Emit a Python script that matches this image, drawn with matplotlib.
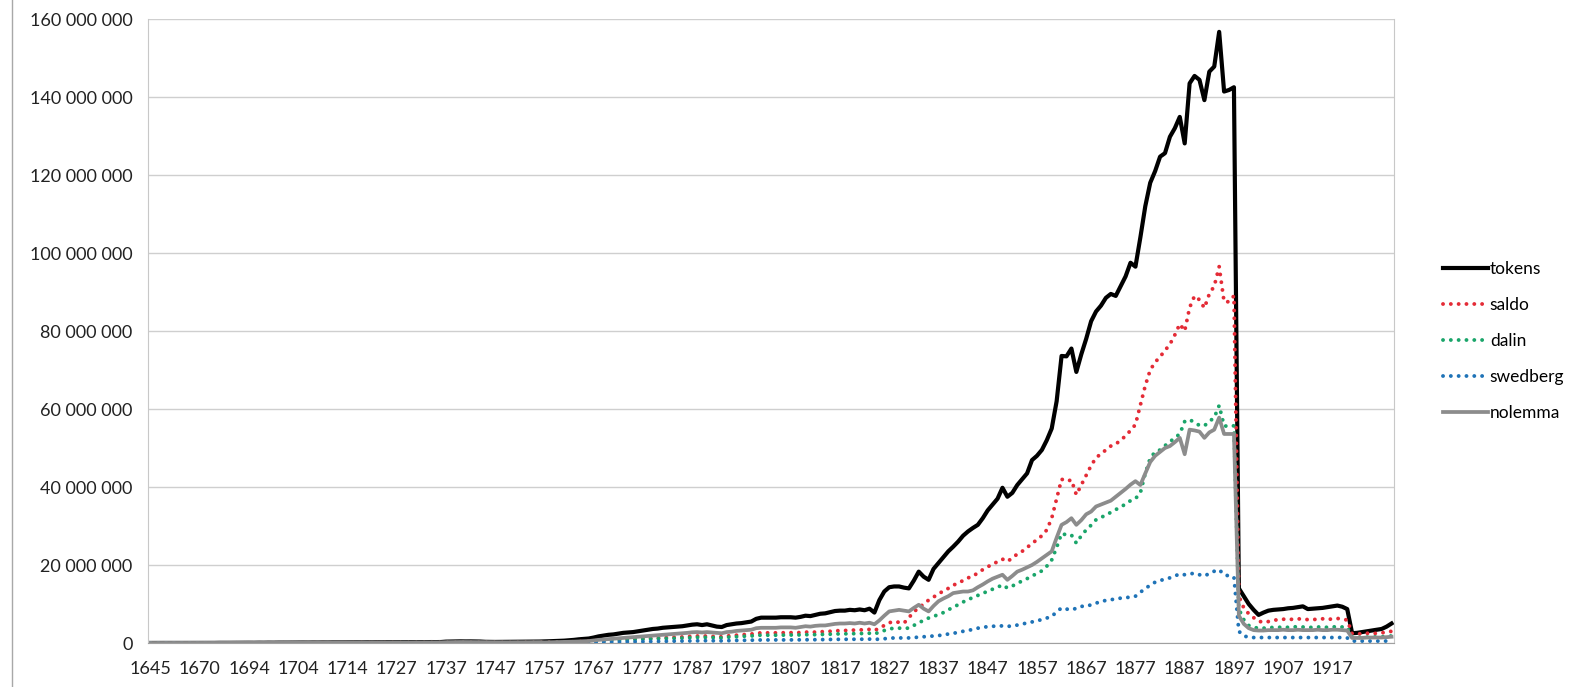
import matplotlib.pyplot as plt
from matplotlib.lines import Line2D
from matplotlib.ticker import FuncFormatter

# categories (years with data); before 1737 the years are not consecutive
early_years = [1645, 1648, 1650, 1654, 1656, 1658, 1661, 1663, 1665, 1668,
               1670, 1672, 1674, 1677, 1679, 1681, 1684, 1686, 1689, 1691,
               1694, 1695, 1696, 1697, 1698, 1699, 1700, 1701, 1702, 1703,
               1704, 1705, 1706, 1707, 1708, 1709, 1710, 1711, 1712, 1713,
               1714, 1715, 1716, 1718, 1719, 1720, 1722, 1723, 1724, 1726,
               1727, 1728, 1729, 1730, 1731, 1732, 1733, 1734, 1735, 1736]
years = early_years + list(range(1737, 1930))

# values in millions
tokens = [
    0.01, 0.02, 0.01, 0.02, 0.01, 0.02, 0.03, 0.02, 0.02, 0.03,
    0.03, 0.02, 0.04, 0.03, 0.05, 0.04, 0.05, 0.06, 0.05, 0.06,
    0.07, 0.06, 0.08, 0.07, 0.09, 0.08, 0.1, 0.09, 0.1, 0.11,
    0.1, 0.12, 0.11, 0.13, 0.12, 0.14, 0.13, 0.15, 0.14, 0.15,
    0.16, 0.15, 0.17, 0.16, 0.18, 0.17, 0.19, 0.18, 0.2, 0.19,
    0.2, 0.21, 0.2, 0.22, 0.21, 0.23, 0.22, 0.24, 0.23, 0.25,
    0.35, 0.38, 0.4, 0.42, 0.4, 0.41, 0.39, 0.37, 0.3, 0.28,
    0.27, 0.28, 0.3, 0.29, 0.31, 0.3, 0.32, 0.33, 0.35, 0.37,
    0.4, 0.45, 0.5, 0.55, 0.6, 0.7, 0.8, 0.95, 1.05, 1.15,
    1.4, 1.7, 1.9, 2.1, 2.2, 2.4, 2.6, 2.7, 2.8, 3.0,
    3.2, 3.4, 3.6, 3.7, 3.9, 4.0, 4.1, 4.2, 4.3, 4.5,
    4.7, 4.8, 4.6, 4.8, 4.5, 4.2, 4.1, 4.6, 4.8, 5.0,
    5.1, 5.3, 5.5, 6.2, 6.5, 6.5, 6.5, 6.5, 6.6, 6.6,
    6.6, 6.5, 6.7, 7.0, 6.9, 7.2, 7.5, 7.6, 7.9, 8.2,
    8.3, 8.3, 8.5, 8.4, 8.6, 8.4, 8.8, 7.8, 11.0, 13.2,
    14.3, 14.5, 14.5, 14.2, 14.0, 16.0, 18.3, 17.0, 16.2, 19.0,
    20.5, 22.0, 23.5, 24.7, 26.0, 27.5, 28.6, 29.5, 30.3, 32.0,
    34.0, 35.5, 37.0, 39.8, 37.5, 38.5, 40.5, 42.0, 43.5, 46.9,
    48.0, 49.5, 52.0, 55.0, 62.0, 73.6, 73.5, 75.5, 69.5, 74.0,
    78.0, 82.5, 85.0, 86.5, 88.5, 89.5, 89.0, 91.5, 94.0, 97.5,
    96.5, 104.0, 112.0, 118.0, 121.0, 124.7, 125.6, 129.8, 132.0, 134.9,
    128.1, 143.5, 145.4, 144.4, 139.2, 146.5, 147.8, 156.7, 141.4, 141.8,
    142.5, 14.0, 12.0, 10.0, 8.5, 7.2, 7.8, 8.3, 8.5, 8.6,
    8.7, 8.9, 9.0, 9.2, 9.4, 8.7, 8.8, 8.9, 9.0, 9.2,
    9.4, 9.6, 9.3, 8.7, 2.5, 2.6, 2.8, 3.0, 3.2, 3.4,
    3.6, 4.2, 5.0,
]

saldo = [
    0.0, 0.01, 0.0, 0.01, 0.0, 0.01, 0.01, 0.01, 0.01, 0.01,
    0.01, 0.01, 0.02, 0.01, 0.02, 0.02, 0.02, 0.02, 0.02, 0.02,
    0.03, 0.02, 0.03, 0.03, 0.04, 0.03, 0.04, 0.04, 0.04, 0.04,
    0.04, 0.05, 0.04, 0.05, 0.05, 0.05, 0.05, 0.06, 0.05, 0.06,
    0.06, 0.06, 0.07, 0.06, 0.07, 0.07, 0.07, 0.07, 0.08, 0.07,
    0.08, 0.08, 0.08, 0.09, 0.08, 0.09, 0.09, 0.09, 0.09, 0.1,
    0.12, 0.13, 0.14, 0.15, 0.14, 0.14, 0.13, 0.13, 0.11, 0.1,
    0.1, 0.1, 0.11, 0.1, 0.11, 0.11, 0.12, 0.12, 0.13, 0.14,
    0.15, 0.17, 0.19, 0.21, 0.23, 0.27, 0.3, 0.35, 0.4, 0.45,
    0.55, 0.65, 0.72, 0.8, 0.85, 0.9, 0.95, 1.0, 1.05, 1.1,
    1.15, 1.2, 1.25, 1.3, 1.35, 1.4, 1.45, 1.5, 1.55, 1.65,
    1.75, 1.8, 1.75, 1.8, 1.7, 1.6, 1.6, 1.8, 1.9, 2.0,
    2.1, 2.2, 2.3, 2.5, 2.6, 2.6, 2.6, 2.6, 2.6, 2.65,
    2.65, 2.6, 2.7, 2.8, 2.75, 2.8, 2.9, 2.9, 3.0, 3.1,
    3.2, 3.2, 3.3, 3.3, 3.4, 3.3, 3.5, 3.2, 3.8, 4.5,
    5.2, 5.5, 5.3, 5.1, 6.5, 8.0, 9.0, 10.0, 11.0, 11.8,
    12.5, 13.4, 14.0, 14.8, 15.4, 16.0, 16.7, 17.1, 18.0, 18.8,
    19.5, 20.3, 20.8, 21.5, 20.9, 21.8, 22.8, 23.5, 24.5, 25.5,
    26.5, 27.5, 29.0, 32.0, 37.0, 42.0, 41.5, 41.8, 38.0, 40.5,
    43.0, 45.5, 47.5, 48.5, 49.5, 50.5, 51.0, 52.0, 53.1, 54.5,
    56.0, 61.0, 66.0, 70.0, 72.0, 73.4, 75.0, 76.6, 79.0, 81.8,
    80.0, 86.0, 89.0, 88.0, 85.9, 89.5, 91.5, 96.5, 87.5, 87.5,
    89.0, 12.0, 9.0, 7.5, 6.5, 5.6, 5.3, 5.5, 5.8, 6.0,
    6.1, 6.0, 6.1, 6.2, 6.1, 6.0, 6.0, 6.1, 6.2, 6.0,
    6.2, 6.3, 6.1, 5.9, 2.4, 2.3, 2.4, 2.5, 2.4, 2.5,
    2.6, 2.8, 3.0,
]

dalin = [
    0.0, 0.0, 0.0, 0.01, 0.0, 0.01, 0.01, 0.01, 0.01, 0.01,
    0.01, 0.01, 0.01, 0.01, 0.01, 0.01, 0.02, 0.02, 0.02, 0.02,
    0.02, 0.02, 0.02, 0.02, 0.03, 0.02, 0.03, 0.03, 0.03, 0.03,
    0.03, 0.04, 0.03, 0.04, 0.04, 0.04, 0.04, 0.04, 0.04, 0.05,
    0.05, 0.05, 0.05, 0.05, 0.05, 0.05, 0.06, 0.05, 0.06, 0.06,
    0.06, 0.06, 0.06, 0.07, 0.06, 0.07, 0.07, 0.07, 0.07, 0.07,
    0.08, 0.09, 0.1, 0.1, 0.1, 0.1, 0.09, 0.09, 0.08, 0.07,
    0.07, 0.07, 0.08, 0.07, 0.08, 0.08, 0.08, 0.08, 0.09, 0.09,
    0.1, 0.12, 0.14, 0.16, 0.18, 0.2, 0.23, 0.27, 0.3, 0.35,
    0.42, 0.5, 0.56, 0.62, 0.66, 0.7, 0.75, 0.8, 0.85, 0.9,
    0.95, 1.0, 1.05, 1.1, 1.12, 1.15, 1.18, 1.2, 1.25, 1.3,
    1.4, 1.45, 1.4, 1.45, 1.4, 1.3, 1.3, 1.45, 1.55, 1.6,
    1.7, 1.75, 1.8, 1.95, 2.0, 2.0, 2.0, 2.0, 2.0, 2.05,
    2.05, 2.0, 2.1, 2.15, 2.1, 2.15, 2.2, 2.2, 2.25, 2.3,
    2.35, 2.35, 2.4, 2.4, 2.45, 2.4, 2.5, 2.3, 2.8, 3.2,
    3.6, 3.8, 3.8, 3.8, 3.8, 4.5, 5.2, 5.8, 6.4, 6.9,
    7.2, 7.8, 8.5, 9.2, 9.8, 10.5, 11.2, 11.6, 12.2, 12.8,
    13.2, 13.8, 14.3, 14.9, 14.1, 14.6, 15.3, 15.9, 16.5, 17.2,
    17.8, 18.5, 19.7, 21.3, 24.5, 28.1, 27.7, 27.7, 25.6, 27.5,
    29.0, 30.2, 31.6, 32.2, 32.8, 33.5, 34.2, 34.9, 35.6, 36.5,
    37.0, 38.5, 43.5, 47.4, 49.0, 49.5, 50.6, 51.6, 52.6, 53.6,
    56.8, 57.3, 56.5, 55.8, 55.7, 56.8, 57.8, 60.9, 55.7, 55.5,
    55.7, 8.7, 6.0, 4.5, 4.0, 3.8, 3.8, 3.9, 4.0, 4.0,
    4.1, 4.0, 4.1, 4.2, 4.1, 4.0, 4.0, 4.1, 4.1, 4.0,
    4.1, 4.2, 4.1, 4.0, 1.5, 1.4, 1.5, 1.5, 1.5, 1.6,
    1.6, 1.7, 1.8,
]

swedberg = [
    0.0, 0.0, 0.0, 0.0, 0.0, 0.0, 0.0, 0.0, 0.0, 0.0,
    0.0, 0.0, 0.0, 0.0, 0.0, 0.0, 0.01, 0.01, 0.01, 0.01,
    0.01, 0.01, 0.01, 0.01, 0.01, 0.01, 0.01, 0.01, 0.01, 0.01,
    0.01, 0.01, 0.01, 0.01, 0.01, 0.01, 0.01, 0.01, 0.01, 0.01,
    0.01, 0.01, 0.01, 0.01, 0.01, 0.01, 0.01, 0.01, 0.02, 0.02,
    0.02, 0.02, 0.02, 0.02, 0.02, 0.02, 0.02, 0.02, 0.02, 0.02,
    0.03, 0.03, 0.03, 0.03, 0.03, 0.03, 0.03, 0.03, 0.03, 0.03,
    0.03, 0.03, 0.03, 0.03, 0.03, 0.03, 0.03, 0.03, 0.04, 0.04,
    0.04, 0.05, 0.05, 0.06, 0.06, 0.07, 0.08, 0.09, 0.1, 0.12,
    0.15, 0.18, 0.2, 0.22, 0.24, 0.26, 0.28, 0.3, 0.32, 0.34,
    0.36, 0.38, 0.4, 0.42, 0.44, 0.46, 0.48, 0.5, 0.52, 0.55,
    0.58, 0.6, 0.58, 0.6, 0.58, 0.55, 0.55, 0.6, 0.62, 0.65,
    0.67, 0.7, 0.72, 0.76, 0.78, 0.78, 0.78, 0.78, 0.79, 0.8,
    0.8, 0.8, 0.82, 0.84, 0.83, 0.85, 0.87, 0.88, 0.9, 0.92,
    0.94, 0.94, 0.96, 0.96, 0.98, 0.96, 1.0, 0.9, 1.0, 1.1,
    1.2, 1.3, 1.3, 1.3, 1.3, 1.4, 1.5, 1.6, 1.7, 1.8,
    1.9, 2.1, 2.3, 2.5, 2.7, 3.0, 3.2, 3.5, 3.8, 4.0,
    4.2, 4.3, 4.3, 4.4, 4.3, 4.3, 4.6, 4.9, 5.1, 5.4,
    5.7, 6.0, 6.4, 6.8, 8.0, 9.0, 8.7, 8.5, 8.9, 9.4,
    9.4, 9.8, 10.2, 10.7, 10.9, 11.1, 11.3, 11.5, 11.6, 11.8,
    12.0, 13.0, 14.0, 14.8, 15.6, 16.0, 16.4, 16.7, 17.2, 17.7,
    17.5, 17.7, 17.9, 17.5, 17.2, 17.8, 18.4, 18.8, 17.5, 17.2,
    16.9, 3.0, 1.8, 1.5, 1.4, 1.4, 1.4, 1.4, 1.4, 1.4,
    1.4, 1.4, 1.4, 1.4, 1.4, 1.4, 1.4, 1.4, 1.4, 1.4,
    1.4, 1.4, 1.4, 1.3, 0.5, 0.5, 0.5, 0.5, 0.5, 0.5,
    0.5, 0.5, 0.6,
]

nolemma = [
    0.01, 0.01, 0.01, 0.01, 0.01, 0.01, 0.02, 0.01, 0.01, 0.02,
    0.02, 0.01, 0.02, 0.02, 0.03, 0.02, 0.03, 0.04, 0.03, 0.04,
    0.04, 0.04, 0.05, 0.04, 0.05, 0.05, 0.06, 0.05, 0.06, 0.07,
    0.06, 0.07, 0.07, 0.08, 0.07, 0.08, 0.08, 0.09, 0.08, 0.09,
    0.1, 0.09, 0.1, 0.1, 0.11, 0.1, 0.11, 0.11, 0.12, 0.11,
    0.12, 0.13, 0.12, 0.13, 0.13, 0.14, 0.13, 0.14, 0.14, 0.15,
    0.2, 0.22, 0.24, 0.25, 0.24, 0.24, 0.23, 0.22, 0.18, 0.17,
    0.16, 0.17, 0.18, 0.17, 0.19, 0.18, 0.19, 0.2, 0.21, 0.22,
    0.15, 0.18, 0.2, 0.22, 0.25, 0.3, 0.35, 0.4, 0.45, 0.5,
    0.65, 0.8, 0.9, 1.0, 1.1, 1.2, 1.3, 1.4, 1.5, 1.6,
    1.7, 1.8, 1.9, 2.0, 2.1, 2.2, 2.3, 2.4, 2.5, 2.6,
    2.75, 2.8, 2.7, 2.8, 2.7, 2.6, 2.5, 2.8, 2.9, 3.1,
    3.2, 3.3, 3.4, 3.8, 3.9, 3.9, 3.9, 3.9, 4.0, 4.0,
    4.0, 3.9, 4.1, 4.3, 4.2, 4.4, 4.5, 4.5, 4.7, 4.9,
    5.0, 5.0, 5.1, 5.0, 5.2, 5.0, 5.2, 4.8, 5.8, 7.0,
    8.1, 8.3, 8.5, 8.3, 8.1, 9.0, 9.8, 8.8, 8.1, 9.5,
    10.7, 11.4, 12.0, 12.8, 13.0, 13.2, 13.2, 13.5, 14.3, 15.0,
    15.8, 16.5, 17.0, 17.5, 16.2, 17.2, 18.3, 18.8, 19.4, 20.0,
    20.8, 21.7, 22.6, 23.5, 27.0, 30.3, 31.0, 32.0, 30.3, 31.5,
    33.0, 33.7, 35.0, 35.5, 36.0, 36.5, 37.5, 38.5, 39.5, 40.6,
    41.5, 40.5, 43.5, 46.4, 48.0, 49.0, 50.0, 50.5, 51.5, 52.6,
    48.4, 54.7, 54.5, 54.2, 52.6, 54.0, 54.7, 57.8, 53.6, 53.6,
    53.6, 7.0, 4.9, 3.8, 3.3, 3.2, 3.2, 3.3, 3.3, 3.3,
    3.4, 3.3, 3.3, 3.4, 3.3, 3.3, 3.3, 3.4, 3.3, 3.3,
    3.4, 3.4, 3.3, 3.2, 1.3, 1.3, 1.3, 1.4, 1.4, 1.4,
    1.4, 1.5, 1.6,
]

series_names = ["tokens", "saldo", "dalin", "swedberg", "nolemma"]
y_ticks = [0, 20, 40, 60, 80, 100, 120, 140, 160]

for s in (tokens, saldo, dalin, swedberg, nolemma):
    assert len(s) == len(years), len(s)

plt.rcParams['font.family'] = ['Lato', 'DejaVu Sans']

W, H = 1574, 687
fig = plt.figure(figsize=(W / 100, H / 100), dpi=100)
ax = fig.add_axes([148 / W, 1 - 643 / H, (1394 - 148) / W, (643 - 19) / H])

dots = (0, (0.01, 2.0))
styles = {
    "tokens": dict(color="black", lw=3.0, ls="-"),
    "saldo": dict(color="#E42B36", lw=2.8, ls=dots, dash_capstyle="round"),
    "dalin": dict(color="#1AA56A", lw=2.8, ls=dots, dash_capstyle="round"),
    "swedberg": dict(color="#1F73B7", lw=2.8, ls=dots, dash_capstyle="round"),
    "nolemma": dict(color="#8C8C8C", lw=2.7, ls="-"),
}
data = dict(zip(series_names, (tokens, saldo, dalin, swedberg, nolemma)))

x = list(range(len(years)))
for name in series_names:
    ax.plot(x, [v * 1e6 for v in data[name]], label=name,
            solid_joinstyle="round", **styles[name])

ax.set_xlim(-0.5, len(years) - 0.5)
ax.set_ylim(0, 160e6)
ax.set_yticks([t * 1e6 for t in y_ticks])
ax.yaxis.set_major_formatter(FuncFormatter(lambda v, p: f"{int(round(v)):,}".replace(",", " ")))

tick_pos = list(range(0, 241, 10))
ax.set_xticks(tick_pos)
ax.set_xticklabels([str(years[i]) for i in tick_pos])

ax.grid(axis="y", color="#CFCFCF", lw=1.0)
ax.set_axisbelow(True)
ax.tick_params(length=0, labelsize=13, colors="#222222")
ax.tick_params(axis="y", pad=11)
ax.tick_params(axis="x", pad=13)
for side in ("top", "right", "left"):
    ax.spines[side].set_color("#C8C8C8")
ax.spines["bottom"].set_color("#A0A0A0")
ax.spines["top"].set_visible(False)

fig.legend(loc="center left", bbox_to_anchor=(1436 / W, 1 - 341 / H),
           frameon=False, fontsize=12.5, handlelength=2.6, handletextpad=0.1,
           labelspacing=1.15, borderaxespad=0)

# thin border line at the far left of the picture
fig.add_artist(Line2D([12 / W, 12 / W], [0, 1], color="#A8A8A8", lw=1.0))

fig.savefig("out.png", dpi=100)
